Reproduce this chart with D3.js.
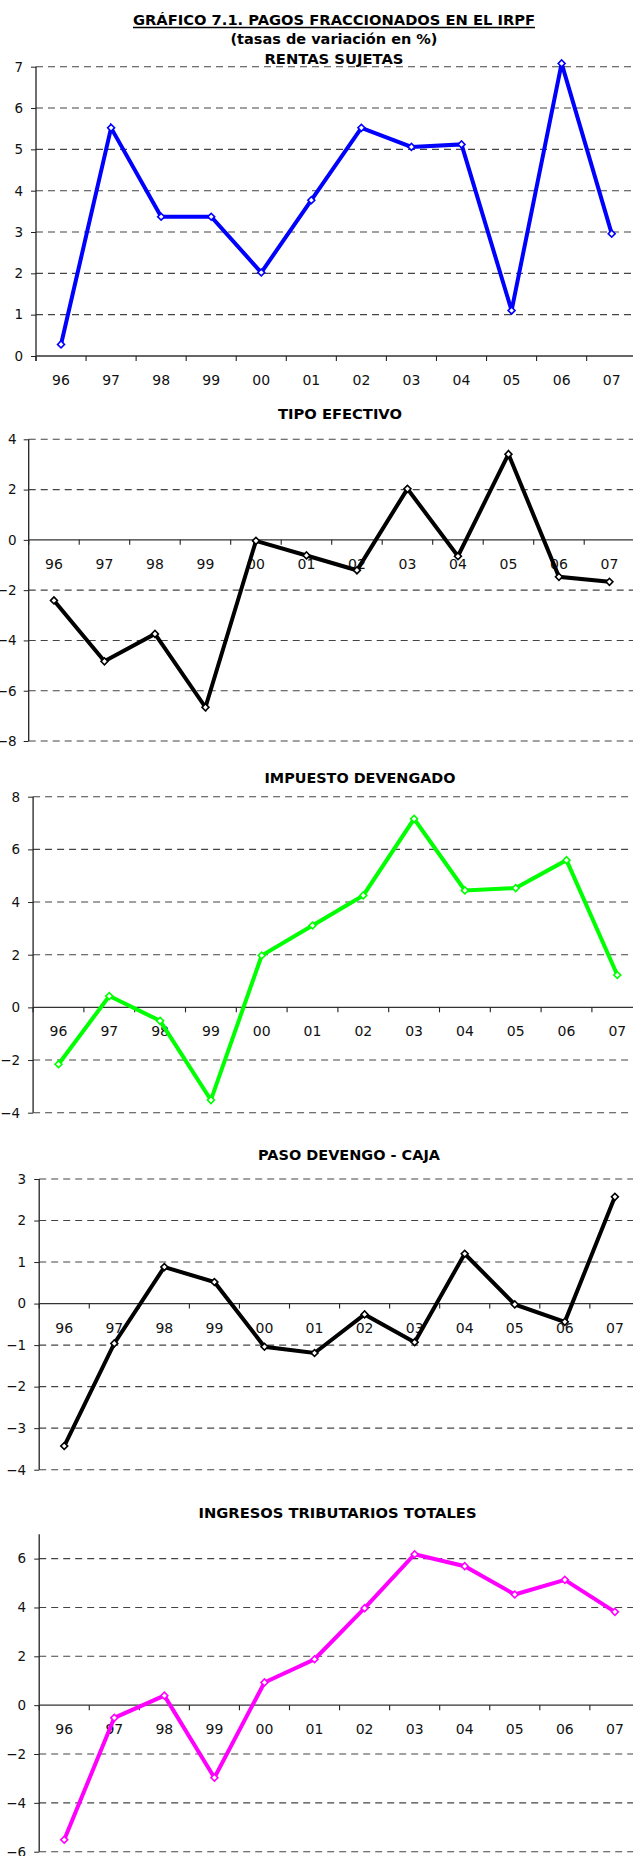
<!DOCTYPE html>
<html>
<head>
<meta charset="utf-8">
<script src="https://cdn.jsdelivr.net/npm/d3@7"></script>
<style>
html,body{margin:0;padding:0;background:#fff;}
svg{display:block;}
</style>
</head>
<body>
<script>
// ---- DATA ----
const years = ["96","97","98","99","00","01","02","03","04","05","06","07"];
const rentasSujetas      = [0.28, 5.52, 3.37, 3.37, 2.02, 3.77, 5.52, 5.06, 5.12, 1.10, 7.08, 2.96];
const tipoEfectivo       = [-2.41,-4.83,-3.74,-6.66,-0.04,-0.62,-1.21, 2.03,-0.65, 3.41,-1.47,-1.67];
const impuestoDevengado  = [-2.16, 0.43,-0.51,-3.52, 1.97, 3.11, 4.25, 7.16, 4.44, 4.53, 5.59, 1.23];
const pasoDevengoCaja    = [-3.43,-0.96, 0.88, 0.52,-1.04,-1.19,-0.26,-0.93, 1.20,-0.02,-0.44, 2.57];
const ingresosTributarios= [-5.51,-0.52, 0.39,-2.97, 0.93, 1.88, 3.97, 6.18, 5.69, 4.53, 5.13, 3.82];

const ticksRentas   = [0,1,2,3,4,5,6,7];
const ticksTipo     = [-8,-6,-4,-2,0,2,4];
const ticksImpuesto = [-4,-2,0,2,4,6,8];
const ticksPaso     = [-4,-3,-2,-1,0,1,2,3];
const ticksIngresos = [-6,-4,-2,0,2,4,6];

const mainTitle = "GRÁFICO 7.1.  PAGOS FRACCIONADOS EN EL IRPF";
const subTitle  = "(tasas de variación en %)";

// ---- LAYOUT ----
const W = 633, H = 1856;
const svg = d3.select("body").append("svg").attr("width", W).attr("height", H);
const FONT = "'DejaVu Sans', Verdana, sans-serif";

function title(txt, cx, y, len, size) {
  svg.append("text").attr("x", cx).attr("y", y)
    .attr("text-anchor","middle").attr("font-family",FONT).attr("font-weight","bold")
    .attr("font-size",size||14).attr("textLength",len).attr("lengthAdjust","spacingAndGlyphs")
    .attr("fill","#000").text(txt);
}

title(mainTitle, 334, 25, 402);
svg.append("line").attr("x1",133).attr("x2",535).attr("y1",27.5).attr("y2",27.5)
  .attr("stroke","#000").attr("stroke-width",1.7);
title(subTitle, 334, 44, 207);

const charts = [
  {name:"RENTAS SUJETAS", values:rentasSujetas, ticks:ticksRentas, domain:[0,7], color:"#0000ff",
   left:36, band:50.06, top:66.7, bottom:356, tcx:334, ty:64, tlen:139, pad:8},
  {name:"TIPO EFECTIVO", values:tipoEfectivo, ticks:ticksTipo, domain:[-8,4], color:"#000000",
   left:28.7, band:50.5, top:439.3, bottom:741, tcx:340, ty:418.5, tlen:124, pad:7},
  {name:"IMPUESTO DEVENGADO", values:impuestoDevengado, ticks:ticksImpuesto, domain:[-4,8], color:"#00ff00",
   left:33.1, band:50.8, top:796.7, bottom:1112.7, tcx:360, ty:782.5, tlen:191, pad:8},
  {name:"PASO DEVENGO - CAJA", values:pasoDevengoCaja, ticks:ticksPaso, domain:[-4,3], color:"#000000",
   left:39.2, band:50.06, top:1179, bottom:1469.7, tcx:349, ty:1160, tlen:182, pad:8},
  {name:"INGRESOS TRIBUTARIOS TOTALES", values:ingresosTributarios, ticks:ticksIngresos, domain:[-6,7], color:"#ff00ff",
   left:39.2, band:50.06, top:1534.2, bottom:1851.7, tcx:337.5, ty:1518.3, tlen:278, pad:8}
];

charts.forEach(c => {
  title(c.name, c.tcx, c.ty, c.tlen);
  const x = d3.scaleBand().domain(years).range([c.left, c.left + 12*c.band]).padding(0);
  const y = d3.scaleLinear().domain(c.domain).range([c.bottom, c.top]);
  const g = svg.append("g");

  // gridlines (dashed), except at zero
  g.selectAll("line.grid").data(c.ticks.filter(t => t !== 0)).enter().append("line")
    .attr("x1", c.left).attr("x2", W + 10)
    .attr("y1", d => y(d)).attr("y2", d => y(d))
    .attr("stroke","#444").attr("stroke-width",1.1).attr("stroke-dasharray","7,5");

  // y axis with labels
  const ya = g.append("g").attr("transform",`translate(${c.left},0)`)
    .call(d3.axisLeft(y).tickValues(c.ticks).tickSize(5).tickPadding(c.pad).tickFormat(d3.format("d")));
  ya.select(".domain").remove();
  ya.selectAll(".tick line").attr("stroke","#222");
  ya.selectAll(".tick text").attr("font-family",FONT).attr("font-size",13.5).attr("fill","#111");

  // vertical axis line
  const y0 = y(0);
  g.append("line").attr("x1",c.left).attr("x2",c.left)
    .attr("y1", c.top).attr("y2", Math.max(c.bottom, y0 + 5))
    .attr("stroke","#222").attr("stroke-width",1.3);

  // zero axis (solid) with ticks at band boundaries
  g.append("line").attr("x1",c.left).attr("x2",W + 10).attr("y1",y0).attr("y2",y0)
    .attr("stroke","#333").attr("stroke-width",1.3);
  const bounds = years.map(d => x(d)).concat([c.left + 12*c.band]);
  g.selectAll("line.xt").data(bounds).enter().append("line")
    .attr("x1",d=>d).attr("x2",d=>d).attr("y1",y0).attr("y2",y0+5)
    .attr("stroke","#222").attr("stroke-width",1.1);

  // x labels
  const xa = g.append("g").attr("transform",`translate(0,${y0})`)
    .call(d3.axisBottom(x).tickSize(0).tickPadding(19));
  xa.select(".domain").remove();
  xa.selectAll(".tick text").attr("font-family",FONT).attr("font-size",14).attr("fill","#111");

  // series line
  const pts = c.values.map((v,i) => [x(years[i]) + x.bandwidth()/2, y(v)]);
  g.append("path").attr("d", d3.line()(pts)).attr("fill","none")
    .attr("stroke", c.color).attr("stroke-width",4).attr("stroke-linejoin","miter");

  // markers: diamonds
  const sym = d3.symbol().type(d3.symbolSquare).size(24);
  g.selectAll("path.mk").data(pts).enter().append("path")
    .attr("d", sym())
    .attr("transform", d => `translate(${d[0]},${d[1]}) rotate(45)`)
    .attr("fill","#fff").attr("stroke", c.color).attr("stroke-width",1.6);
});
</script>
</body>
</html>
